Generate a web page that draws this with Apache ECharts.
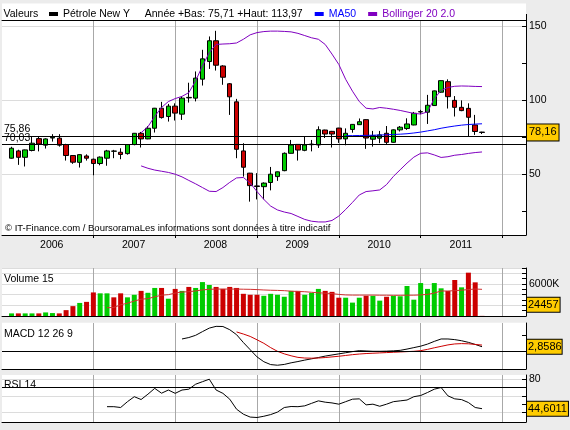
<!DOCTYPE html>
<html><head><meta charset="utf-8">
<script src="https://cdn.jsdelivr.net/npm/echarts@6/dist/echarts.min.js"></script>
<style>html,body{margin:0;padding:0;background:#ececec}#c{width:570px;height:430px}</style>
</head><body><div id="c"></div>
<script>
// ---------- data (monthly, index 0 = Jan 2006) ----------
const startYear = 2006;
const openP  = [60.8,65.7,61.4,66.0,74.0,69.6,74.4,74.3,70.0,62.6,58.0,62.3,60.1,57.2,60.8,65.5,64.8,63.9,70.0,77.6,73.8,81.0,94.5,88.9,95.9,90.5,101.5,101.3,114.1,126.0,140.0,123.0,111.0,98.8,65.7,50.7,42.1,41.6,44.4,48.4,52.4,64.1,70.1,66.1,69.9,69.7,79.8,78.9,81.1,73.8,80.2,83.4,86.8,73.6,74.3,77.6,71.5,79.9,80.8,83.2,92.0,91.8,96.3,105.3,112.4,99.8,95.1,94.4,83.2,78.4];
const closeP = [67.5,61.4,66.4,70.9,70.4,73.8,74.9,69.6,62.6,58.1,63.2,60.8,57.2,61.5,65.7,65.6,63.3,70.0,77.6,73.8,81.0,94.5,88.2,95.9,91.2,101.3,101.8,114.8,127.8,140.0,123.5,115.4,102.2,66.8,54.7,42.3,41.7,44.0,50.0,51.6,64.1,69.7,66.3,69.7,70.3,80.0,77.1,77.1,73.8,77.6,83.6,85.4,74.4,76.0,76.5,71.5,79.9,81.7,83.9,91.1,92.2,96.5,106.2,113.1,102.3,95.1,92.9,88.4,78.8,78.16];
const lowP   = [60.5,56.3,55.2,65.4,65.4,67.3,72.0,68.6,59.2,57.0,54.5,59.2,49.3,56.0,55.7,60.8,60.1,63.2,69.5,68.0,73.6,78.1,87.5,85.5,86.2,86.6,98.3,99.1,109.8,121.0,119.9,110.3,90.0,60.8,48.4,31.5,33.0,33.0,39.1,45.5,52.0,64.0,59.2,65.5,65.4,67.7,74.4,68.0,71.1,69.5,78.0,83.2,67.1,68.6,70.9,70.4,71.3,78.8,79.9,83.0,90.4,83.9,96.1,105.0,94.3,88.9,92.5,75.71,76.5,77.1];
const highP  = [68.5,66.5,66.6,75.4,75.4,74.2,77.0,77.0,70.5,62.6,63.4,63.4,60.5,62.0,66.4,66.4,67.5,70.2,77.8,78.5,82.5,94.7,98.8,97.4,97.8,102.4,111.7,119.3,133.9,142.9,146.7,123.5,111.5,100.8,70.9,50.9,50.7,44.5,54.9,51.8,64.7,73.1,70.3,75.5,73.1,82.3,80.0,79.2,81.3,80.9,83.8,87.6,87.0,79.2,79.2,82.5,80.2,82.5,87.7,92.0,93.4,103.5,106.4,113.3,113.97,102.7,99.8,97.8,90.0,78.6];
const ma50Start = 49;
const ma50 = [76.0,76.0,76.1,76.2,76.3,76.4,76.6,76.8,77.0,77.3,77.8,78.4,79.2,80.0,81.0,81.8,82.5,83.1,83.5,83.8,84.0];
const bollStart = 19;
const bollUpper = [78,82,89,95,99,101,102.5,105,113,123,132,137.5,137.8,138,138.5,141,144,145.5,146.2,146.5,146.5,146.3,146,145,143.5,142,141,137.5,131,124,114,106,99,94.5,94,95,94.5,93.8,93,92,91,90.6,92,101,106.5,108.5,109.3,109.5,109.4,109.2,109.1];
const bollLower = [55.6,54,52.8,52,51.2,50,48.2,45.8,43.5,41,38.5,38.3,41,44.5,47.5,47.8,44,38.3,33,28.5,25.9,24.5,23.5,21.5,19.5,18.3,17.8,17.8,18.8,21.8,26.2,31,36,38.3,38.8,39.4,43,48.5,53,57.5,61.5,64.1,64.4,63,61.3,61.8,62.8,63.3,64,64.6,65];
// volume in thousands
const volume = [490,490,490,490,490,670,550,490,1100,1850,2450,2650,4420,4250,4250,3500,4250,3500,3980,4710,4350,5260,5260,3240,5080,4710,5450,5260,6360,5810,5450,5080,5450,5260,4160,3980,3980,3790,4160,3980,3610,4710,4710,3980,4350,5080,4710,4530,3430,3430,2510,3430,3790,3790,2880,3610,3790,3700,5630,3060,6180,5080,6180,5190,4690,6750,5375,8125,6310,24.457];
const volUp  = [1,0,1,1,0,1,1,0,0,0,1,0,0,1,1,0,0,1,1,0,1,1,0,1,0,1,0,1,1,1,0,0,0,0,0,0,0,1,1,1,1,1,0,1,1,1,0,0,0,1,1,1,0,1,1,0,1,1,1,1,1,1,1,1,0,0,1,0,0,0];
const volMAStart = 14;
const volMA15 = [1550,1600,2100,2400,2800,3150,3250,3600,3900,4000,4300,4500,4550,4700,4900,5000,5050,5050,5050,5050,5020,5000,4950,4880,4830,4800,4750,4650,4600,4550,4450,4350,4280,4200,4050,3950,3920,3920,3920,3920,3900,3900,3880,3880,3900,3900,3950,4050,4300,4690,4690,4750,4850,4950,5060,5000];
const lastVolumeRaw = 24457;
const volumeTagLevel = 2120;
const macdStart = 25;
const macd = [7.7,8.6,10,12.3,14.5,15.6,15.5,13.5,10.4,5.5,1,-3.5,-6.5,-8.3,-8.7,-8.2,-7.2,-6.4,-5.5,-4.7,-3.9,-3,-2.3,-1.6,-0.9,-0.2,0.4,0.2,0,0,0.1,0.3,0.6,1.4,2.3,3.2,4.5,6.2,7.7,7.7,7.3,6.6,5.6,4.3,2.8586];
const signalStart = 33;
const macdSignal = [12.1,10.8,9.3,7.2,5,2.3,0,-1.6,-2.8,-3.8,-4.2,-4.3,-4.2,-3.9,-3.5,-3.1,-2.6,-2.1,-1.7,-1.4,-1.2,-1,-0.8,-0.6,-0.4,-0.2,0,0.4,1.2,2.2,3.1,4,4.6,4.8,4.7,4.3,3.9];
const rsiStart = 14;
const rsi = [47,47,46,53,59,55.6,62,69,63.2,67,63,67,68,74,77,80,67,63,56,44,38,34.5,34,35.5,37.5,40.5,46,47.2,47,48,51,54,52.4,51.5,50,53,56,56.4,49.2,50,47.5,50,53,54,55,59,60.4,64,68,70,60,56.4,55.5,52,46,44.6011];
const supportLevels = [75.86, 70.03];
const yearTicks = [12,24,36,48,60,72];
const yearLabelPos = [5.9,17.9,29.9,41.9,53.9,65.9];
const mainTickValues = [25,50,75,100,125,150];
const mainLabelValues = [50,100,150];
const rsiGridValues = [40,60,80];
const rsiTickValues = [40,50,60,70,80];
const rsiLabelValues = [80];
const macdTickValues = [0,10];
const legendMain = 'Pétrole New Y     Année +Bas: 75,71 +Haut: 113,97';

// ---------- styles ----------
const FONT = "'Liberation Sans', Arial, sans-serif";
const FS = 10.5;
const GREEN = '#00cc00', RED = '#cc0000', PURPLE = '#8000c0', BLUE = '#0000ff';
const X_MIN = -1.4, X_MAX = 75.45;
const fmt = v => String(v).replace('.', ',');
const series0 = (arr, s) => arr.map((v, k) => [s + k, v]);
const candles = openP.map((o, i) => [i, o, closeP[i], lowP[i], highP[i]]);

function xAx(gridIndex, extra) {
  return Object.assign({
    type: 'value', gridIndex, min: X_MIN, max: X_MAX, position: 'bottom',
    axisLine: {show: true, onZero: false, lineStyle: {color: '#000', width: 1}},
    axisTick: {show: false, customValues: yearTicks},
    axisLabel: {show: false},
    splitLine: {show: true, lineStyle: {color: '#a8a8a8', width: 1}}
  }, extra || {});
}
function yAx(gridIndex, min, max, extra) {
  return Object.assign({
    type: 'value', gridIndex, min, max, position: 'right',
    axisLine: {show: true, onZero: false, lineStyle: {color: '#000', width: 1}},
    axisTick: {show: false},
    axisLabel: {show: false, color: '#000', fontSize: FS, fontFamily: FONT, margin: 3},
    splitLine: {show: false, lineStyle: {color: '#dcdcdc', width: 1}}
  }, extra || {});
}
function tickAx(gridIndex, min, max, tickOpt) {
  return {
    type: 'value', gridIndex, min, max, position: 'right',
    axisLine: {show: false, onZero: false},
    axisTick: Object.assign({show: true, inside: true, length: 4, lineStyle: {color: '#000', width: 1}}, tickOpt),
    axisLabel: {show: false}, splitLine: {show: false}
  };
}
const boxLabel = (text, pad) => ({
  show: true, position: 'end', distance: 1, formatter: text,
  backgroundColor: '#ffcc00', borderColor: '#000', borderWidth: 1,
  padding: pad || [3, 2, 2, 2], color: '#000', fontSize: 11, fontFamily: FONT
});
const hiddenLine = {color: 'rgba(0,0,0,0)', width: 1, type: 'solid'};
const txt = (text, x, y, fs) => ({type: 'text', x, y, z: 5, silent: true,
  style: {text, fill: '#000', fontSize: fs || FS, fontFamily: FONT, verticalAlign: 'middle'}});

const option = {
  animation: false,
  backgroundColor: '#ececec',
  textStyle: {fontFamily: FONT, fontSize: FS, color: '#000'},
  graphic: [
    {type: 'rect', z: -10, silent: true, shape: {x: 2, y: 3.5, width: 524, height: 231.5}, style: {fill: '#fff'}},
    {type: 'rect', z: -10, silent: true, shape: {x: 2, y: 268, width: 524, height: 48}, style: {fill: '#fff'}},
    {type: 'rect', z: -10, silent: true, shape: {x: 2, y: 322.7, width: 524, height: 46.3}, style: {fill: '#fff'}},
    {type: 'rect', z: -10, silent: true, shape: {x: 2, y: 375, width: 524, height: 47}, style: {fill: '#fff'}},
    {type: 'line', z: 5, silent: true, shape: {x1: 526.5, y1: 14, x2: 526.5, y2: 20}, style: {stroke: '#000', lineWidth: 1}},
    txt('Valeurs', 3.5, 14.5),
    txt('\u00a9 IT-Finance.com / BoursoramaLes informations sont données à titre indicatif', 5, 228.3, 9.5),
    txt('Volume 15', 4, 279.5),
    txt('MACD 12 26 9', 4, 334),
    txt('RSI 14', 4, 385.3)
  ],
  legend: {
    left: 49, top: 8.5, padding: 0, itemGap: 12, itemWidth: 9, itemHeight: 4, icon: 'rect',
    selectedMode: false,
    textStyle: {fontSize: FS, fontFamily: FONT, padding: [0, 0, 0, 0]},
    data: [
      {name: legendMain, itemStyle: {color: '#000', borderWidth: 0}, textStyle: {color: '#000'}},
      {name: 'MA50', itemStyle: {color: BLUE}, textStyle: {color: BLUE}},
      {name: 'Bollinger 20 2.0', itemStyle: {color: PURPLE}, textStyle: {color: PURPLE}}
    ]
  },
  grid: [
    {left: 2, top: 20, width: 524, height: 215, outerBoundsMode: 'none'},
    {left: 2, top: 268, width: 524, height: 48, outerBoundsMode: 'none'},
    {left: 2, top: 323, width: 524, height: 46, outerBoundsMode: 'none'},
    {left: 2, top: 375, width: 524, height: 47, outerBoundsMode: 'none'}
  ],
  xAxis: [
    xAx(0, {
      axisTick: {show: true, customValues: yearTicks, length: 3, lineStyle: {color: '#000'}},
      axisLabel: {show: true, customValues: yearLabelPos, margin: 5, color: '#000', fontSize: FS, fontFamily: FONT,
        formatter: v => String(startYear + Math.floor(v / 12))}
    }),
    xAx(0, {position: 'top', splitLine: {show: false}}),
    xAx(1), xAx(2), xAx(3)
  ],
  yAxis: [
    yAx(0, 9, 154, {
      axisTick: {show: false, customValues: mainLabelValues},
      axisLabel: {show: true, customValues: mainLabelValues, color: '#000', fontSize: FS, fontFamily: FONT, margin: 3},
      splitLine: {show: true, lineStyle: {color: '#dcdcdc', width: 1}}
    }),
    tickAx(0, 9, 154, {customValues: mainTickValues}),
    yAx(1, 0, 9000, {
      interval: 2000,
      axisLabel: {show: true, color: '#000', fontSize: FS, fontFamily: FONT, margin: 3,
        formatter: v => (v === 6000 ? '6000K' : '')},
      splitLine: {show: true, lineStyle: {color: '#dcdcdc', width: 1}}
    }),
    Object.assign(tickAx(1, 0, 9000, {}), {interval: 1000}),
    yAx(2, -11.06, 17.69, {
      axisTick: {show: true, inside: true, length: 4, customValues: macdTickValues, lineStyle: {color: '#000'}}
    }),
    yAx(3, 28.6, 85.05, {
      axisTick: {show: false, customValues: rsiGridValues},
      axisLabel: {show: true, customValues: rsiLabelValues, color: '#000', fontSize: FS, fontFamily: FONT, margin: 3},
      splitLine: {show: true, lineStyle: {color: '#dcdcdc', width: 1}}
    }),
    tickAx(3, 28.6, 85.05, {customValues: rsiTickValues})
  ],
  series: [
    {
      type: 'candlestick', name: legendMain, xAxisIndex: 0, yAxisIndex: 0, barWidth: 5,
      data: candles, emphasis: {disabled: true},
      itemStyle: {color: GREEN, color0: RED, borderColor: '#000', borderColor0: '#000', borderColorDoji: '#000', borderWidth: 1},
      markLine: {
        silent: true, symbol: ['none', 'none'], animation: false,
        data: [
          ...supportLevels.map(v => ({yAxis: v, lineStyle: {color: '#000', width: 1, type: 'solid'},
            label: {show: true, position: 'insideStartTop', distance: [2, 1], formatter: fmt(v), color: '#000', fontSize: FS, fontFamily: FONT}})),
          {yAxis: closeP[closeP.length - 1], lineStyle: hiddenLine, label: boxLabel(fmt(closeP[closeP.length - 1]))}
        ]
      }
    },
    {type: 'line', name: 'MA50', xAxisIndex: 0, yAxisIndex: 0, data: series0(ma50, ma50Start), symbol: 'none',
      lineStyle: {color: BLUE, width: 1}, itemStyle: {color: BLUE}, emphasis: {disabled: true}},
    {type: 'line', name: 'Bollinger 20 2.0', xAxisIndex: 0, yAxisIndex: 0, data: series0(bollUpper, bollStart), symbol: 'none',
      lineStyle: {color: PURPLE, width: 1}, itemStyle: {color: PURPLE}, emphasis: {disabled: true}},
    {type: 'line', name: 'Bollinger 20 2.0', xAxisIndex: 0, yAxisIndex: 0, data: series0(bollLower, bollStart), symbol: 'none',
      lineStyle: {color: PURPLE, width: 1}, itemStyle: {color: PURPLE}, emphasis: {disabled: true}},
    {type: 'bar', xAxisIndex: 2, yAxisIndex: 2, barWidth: 5, emphasis: {disabled: true},
      data: volume.map((v, i) => ({value: [i, v], itemStyle: {color: volUp[i] ? GREEN : RED}})),
      markLine: {silent: true, symbol: ['none', 'none'], animation: false,
        data: [{yAxis: volumeTagLevel, lineStyle: hiddenLine, label: boxLabel(String(lastVolumeRaw), [2, 1, 1, 1])}]}},
    {type: 'line', xAxisIndex: 2, yAxisIndex: 2, data: series0(volMA15, volMAStart), symbol: 'none',
      lineStyle: {color: '#d03030', width: 1}, emphasis: {disabled: true}},
    {type: 'line', xAxisIndex: 3, yAxisIndex: 4, data: series0(macd, macdStart), symbol: 'none',
      lineStyle: {color: '#000', width: 1}, emphasis: {disabled: true},
      markLine: {silent: true, symbol: ['none', 'none'], animation: false,
        data: [
          {yAxis: 0, lineStyle: {color: '#000', width: 1, type: 'solid'}, label: {show: false}},
          {yAxis: macd[macd.length - 1], lineStyle: hiddenLine, label: boxLabel(fmt(macd[macd.length - 1]), [2, 0, 1, 1])}
        ]}},
    {type: 'line', xAxisIndex: 3, yAxisIndex: 4, data: series0(macdSignal, signalStart), symbol: 'none',
      lineStyle: {color: RED, width: 1}, emphasis: {disabled: true}},
    {type: 'line', xAxisIndex: 4, yAxisIndex: 5, data: series0(rsi, rsiStart), symbol: 'none',
      lineStyle: {color: '#000', width: 1}, emphasis: {disabled: true},
      markLine: {silent: true, symbol: ['none', 'none'], animation: false,
        data: [
          {yAxis: 70, lineStyle: {color: '#000', width: 1, type: 'solid'}, label: {show: false}},
          {yAxis: rsi[rsi.length - 1], lineStyle: hiddenLine, label: boxLabel(fmt(rsi[rsi.length - 1]), [2, 1, 1, 1])}
        ]}}
  ]
};
const chart = echarts.init(document.getElementById('c'), null, {renderer: 'canvas'});
chart.setOption(option);
</script>
</body></html>
